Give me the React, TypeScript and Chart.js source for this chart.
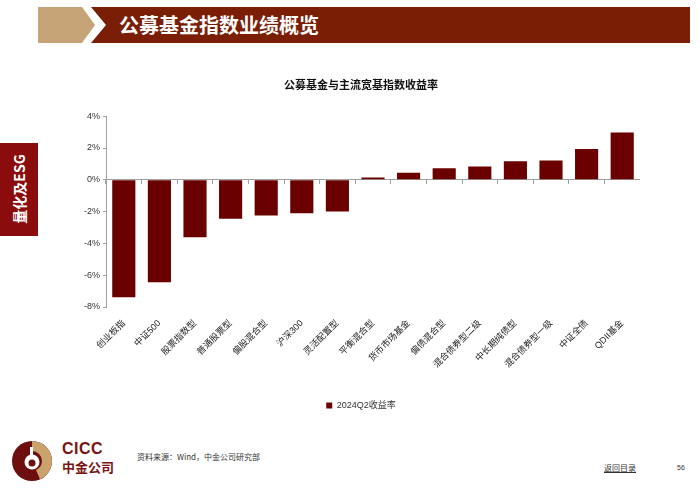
import React, { useEffect, useRef } from "react";
import { Chart, registerables } from "chart.js";

Chart.register(...registerables);

const categories: string[] = [
  "创业板指",
  "中证500",
  "股票指数型",
  "普通股票型",
  "偏股混合型",
  "沪深300",
  "灵活配置型",
  "平衡混合型",
  "货币市场基金",
  "偏债混合型",
  "混合债券型二级",
  "中长期纯债型",
  "混合债券型一级",
  "中证全债",
  "QDII基金",
];

const returns2024Q2: number[] = [
  -7.38, -6.45, -3.62, -2.45, -2.24, -2.11, -1.99, 0.15, 0.44, 0.72, 0.84, 1.16, 1.22, 1.93, 2.98,
];

const seriesLabel = "2024Q2收益率";
const chartTitle = "公募基金与主流宽基指数收益率";
const yMin = -8;
const yMax = 4;
const yStep = 2;

const FONT = "'Liberation Sans', 'Noto Sans CJK SC', Arial, sans-serif";
const CJK = "'Noto Sans CJK SC', 'Liberation Sans', sans-serif";

function BarChart() {
  const ref = useRef<HTMLCanvasElement | null>(null);
  useEffect(() => {
    if (!ref.current) return;
    const chart = new Chart(ref.current, {
      type: "bar",
      data: {
        labels: categories,
        datasets: [
          {
            label: seriesLabel,
            data: returns2024Q2,
            backgroundColor: "#6B0000",
            borderWidth: 0,
            barPercentage: 0.65,
            categoryPercentage: 1,
            xAxisID: "x",
            yAxisID: "y",
          },
        ],
      },
      options: {
        animation: false,
        responsive: false,
        maintainAspectRatio: false,
        layout: { padding: { left: 0, right: 0, top: 0, bottom: 0 } },
        plugins: {
          title: {
            display: true,
            text: chartTitle,
            color: "#111",
            font: { family: CJK, size: 11, weight: "bold" },
            padding: { top: 8, bottom: 25 },
          },
          legend: {
            display: true,
            position: "bottom",
            labels: {
              boxWidth: 6,
              boxHeight: 6,
              padding: 8,
              color: "#333",
              font: { family: FONT, size: 9 },
            },
          },
          tooltip: { enabled: false },
        },
        scales: {
          x: {
            type: "category",
            position: "bottom",
            grid: { display: false },
            border: { display: false },
            ticks: {
              minRotation: 45,
              maxRotation: 45,
              padding: 3,
              color: "#222",
              font: { family: FONT, size: 9 },
              autoSkip: false,
            },
            afterFit: (s: any) => {
              s.height = 86;
            },
          },
          x2: {
            type: "category",
            position: { y: 0 },
            offset: true,
            grid: {
              display: true,
              offset: true,
              drawOnChartArea: false,
              drawTicks: true,
              tickLength: 4,
              color: "#A0A0A0",
            },
            border: { display: true, color: "#A0A0A0", width: 1 },
            ticks: { display: false },
          },
          y: {
            type: "linear",
            min: yMin,
            max: yMax,
            ticks: {
              stepSize: yStep,
              color: "#333",
              padding: 3,
              font: { family: FONT, size: 9 },
              callback: (v: any) => `${v}%`,
            },
            grid: {
              display: true,
              drawOnChartArea: false,
              drawTicks: true,
              tickLength: 3,
              color: "#A0A0A0",
            },
            border: { display: true, color: "#A0A0A0", width: 1 },
            afterFit: (s: any) => {
              s.width = 24;
            },
          },
        },
      } as any,
    });
    return () => chart.destroy();
  }, []);
  return <canvas ref={ref} width={558} height={350} style={{ position: "absolute", left: 82, top: 70, width: 558, height: 350 }} />;
}

function Logo() {
  return (
    <svg width={44} height={44} viewBox="0 0 44 44" style={{ position: "absolute", left: 10, top: 439 }}>
      <circle cx={22} cy={22} r={20} fill="#6E0F0F" />
      <path d="M22 2 A20 20 0 0 1 42 22 A20 20 0 0 1 30 40.3 L26 31 A10 10 0 0 0 32 22 A10 10 0 0 0 22 12 Z" fill="#C9A36B" />
      <circle cx={22} cy={23} r={7.5} fill="#fff" />
      <circle cx={22} cy={24} r={3.5} fill="#6E0F0F" />
      <rect x={20} y={8} width={3} height={10} fill="#fff" />
    </svg>
  );
}

export default function App() {
  return (
    <div style={{ position: "absolute", left: 0, top: 0, width: 700, height: 490, background: "#fff", overflow: "hidden", fontFamily: CJK }}>
      <svg width={700} height={50} style={{ position: "absolute", left: 0, top: 0 }}>
        <polygon points="38,7 82,7 95,25 82,43 38,43" fill="#C6A477" />
        <polygon points="91,7 690,7 690,43 91,43 106,25" fill="#7A1E06" />
      </svg>
      <div style={{ position: "absolute", left: 119, top: 9, color: "#fff", fontSize: 20, fontWeight: "bold", lineHeight: "32px", fontFamily: CJK }}>
        公募基金指数业绩概览
      </div>
      <div style={{ position: "absolute", left: 0, top: 143, width: 38, height: 93, background: "#8A0C0C" }}>
        <div style={{ position: "absolute", left: 19, top: 46, transform: "translate(-50%,-50%) rotate(-90deg)", color: "#fff", fontSize: 14, fontWeight: "bold", whiteSpace: "nowrap", fontFamily: CJK }}>
          量化及ESG
        </div>
      </div>
      <BarChart />
      <Logo />
      <div style={{ position: "absolute", left: 62, top: 440, color: "#7A1414", fontSize: 16, fontWeight: "bold", lineHeight: "18px", fontFamily: "'Liberation Sans', Arial, sans-serif", letterSpacing: 0.5 }}>
        CICC
      </div>
      <div style={{ position: "absolute", left: 62, top: 458, color: "#7A1414", fontSize: 13, fontWeight: "bold", lineHeight: "17px", fontFamily: CJK }}>
        中金公司
      </div>
      <div style={{ position: "absolute", left: 137, top: 451, color: "#333", fontSize: 8, lineHeight: "12px", fontFamily: CJK }}>
        资料来源：Wind，中金公司研究部
      </div>
      <div style={{ position: "absolute", left: 604, top: 462, color: "#333", fontSize: 8, lineHeight: "12px", textDecoration: "underline", fontFamily: CJK }}>
        返回目录
      </div>
      <div style={{ position: "absolute", left: 677, top: 462, color: "#333", fontSize: 7, lineHeight: "12px", fontFamily: FONT }}>
        56
      </div>
    </div>
  );
}
